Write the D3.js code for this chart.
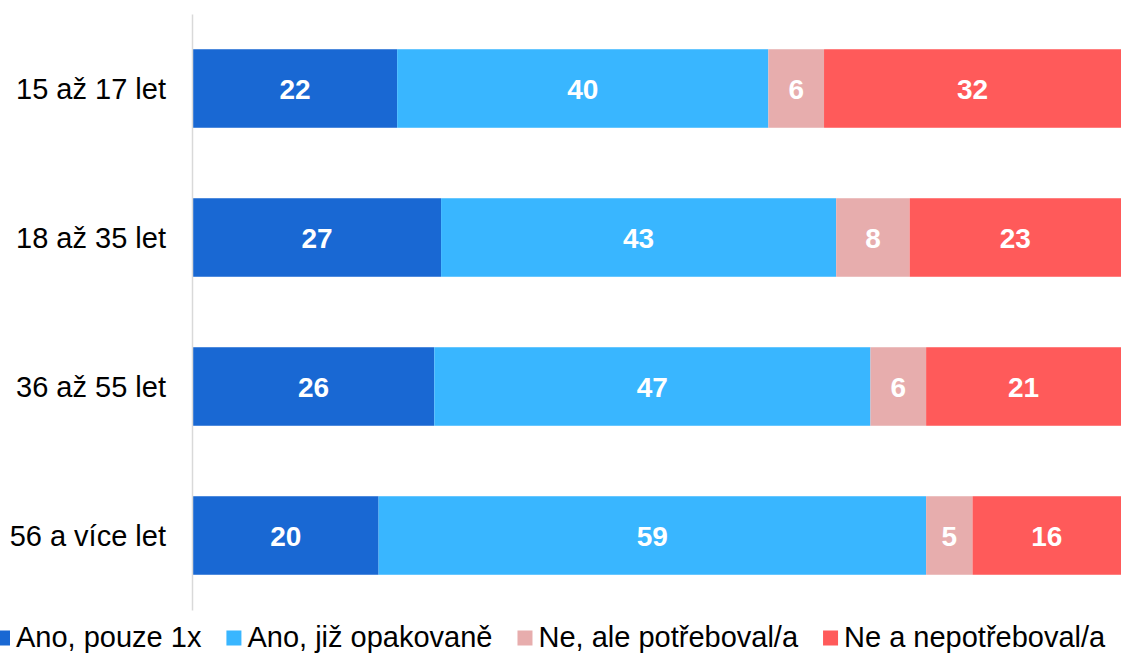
<!DOCTYPE html>
<html>
<head>
<meta charset="utf-8">
<script src="https://cdn.jsdelivr.net/npm/d3@7"></script>
<style>
  html, body { margin: 0; padding: 0; background: #fff; overflow: hidden; }
  svg { display: block; font-family: "Liberation Sans", Arial, sans-serif; }
</style>
</head>
<body>
<svg id="chart" width="1121" height="654"></svg>
<script>
// Age groups and answer shares (%)
const categories = ["15 až 17 let", "18 až 35 let", "36 až 55 let", "56 a více let"];
const seriesNames = ["Ano, pouze 1x", "Ano, již opakovaně", "Ne, ale potřeboval/a", "Ne a nepotřeboval/a"];
const anoPouze1x     = [22, 27, 26, 20];
const anoOpakovane   = [40, 43, 47, 59];
const nePotreboval   = [6, 8, 6, 5];
const neNepotreboval = [32, 23, 21, 16];
const colors = ["#1968d3", "#39b6ff", "#e7adad", "#ff5a5a"];

const seriesValues = [anoPouze1x, anoOpakovane, nePotreboval, neNepotreboval];
const rows = categories.map((c, i) => {
  const r = { cat: c };
  seriesNames.forEach((s, j) => { r[s] = seriesValues[j][i]; });
  return r;
});

const svg = d3.select("#chart");
const axisX = 192;

const y = d3.scaleBand()
  .domain(categories)
  .range([14, 610])
  .paddingInner(0.473)
  .paddingOuter(0.2365);

const x = d3.scaleLinear().domain([0, 1]).range([axisX + 1, 1121]);

const stack = d3.stack().keys(seriesNames).offset(d3.stackOffsetExpand);
const stacked = stack(rows);

const layers = svg.append("g").selectAll("g")
  .data(stacked)
  .join("g")
  .attr("fill", (d, i) => colors[i]);

layers.selectAll("rect")
  .data(d => d)
  .join("rect")
  .attr("x", d => x(d[0]))
  .attr("y", d => y(d.data.cat))
  .attr("width", d => x(d[1]) - x(d[0]))
  .attr("height", y.bandwidth());

// value labels
layers.selectAll("text")
  .data(d => d.map(p => ({ p, key: d.key })))
  .join("text")
  .attr("x", d => (x(d.p[0]) + x(d.p[1])) / 2)
  .attr("y", d => y(d.p.data.cat) + y.bandwidth() / 2)
  .attr("dy", "0.36em")
  .attr("text-anchor", "middle")
  .attr("fill", "#fff")
  .style("font-weight", "bold")
  .style("font-size", "28px")
  .text(d => d.p.data[d.key]);

// category axis
const axis = svg.append("g")
  .attr("transform", `translate(${axisX},0)`)
  .call(d3.axisLeft(y).tickSize(0).tickSizeOuter(0).tickPadding(26));
axis.select(".domain").attr("stroke", "#d9d9d9").attr("stroke-width", 1.5);
axis.selectAll("text")
  .style("font-size", "29px")
  .attr("fill", "#000")
  .attr("dy", "0.35em");

// legend
const legend = svg.append("g").attr("transform", "translate(0,637)");
let lx = -5;
seriesNames.forEach((name, i) => {
  const g = legend.append("g").attr("transform", `translate(${lx},0)`);
  g.append("rect").attr("x", 0).attr("y", -6.5).attr("width", 15).attr("height", 15).attr("fill", colors[i]);
  const t = g.append("text")
    .attr("x", 21)
    .attr("dy", "0.36em")
    .style("font-size", "29px")
    .attr("fill", "#000")
    .text(name);
  lx += 21 + t.node().getComputedTextLength() + 25;
});
</script>
</body>
</html>
